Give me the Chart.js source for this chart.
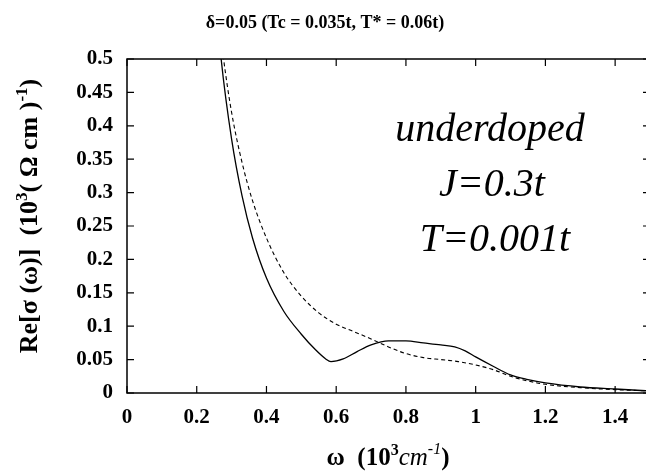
<!DOCTYPE html>
<html>
<head>
<meta charset="utf-8">
<script src="https://cdn.jsdelivr.net/npm/chart.js@4"></script>
<style>
  html, body { margin: 0; padding: 0; background: #fff; }
  #wrap { width: 646px; height: 473px; overflow: hidden; position: relative; }
</style>
</head>
<body>
<div id="wrap"><canvas id="myChart" width="652" height="473"></canvas></div>
<script>
// values
const solidOmega = [0.25, 0.27, 0.30, 0.33, 0.36, 0.40, 0.45, 0.50, 0.54, 0.57, 0.585, 0.62, 0.66, 0.70, 0.75, 0.80, 0.85, 0.90, 0.94, 0.97, 1.00, 1.05, 1.10, 1.15, 1.20, 1.30, 1.40, 1.50];
const solidSigma = [0.62, 0.50, 0.38, 0.295, 0.232, 0.172, 0.122, 0.088, 0.065, 0.051, 0.047, 0.051, 0.062, 0.072, 0.078, 0.078, 0.075, 0.072, 0.069, 0.063, 0.054, 0.040, 0.027, 0.020, 0.015, 0.009, 0.006, 0.003];
const dashedOmega = [0.25, 0.277, 0.30, 0.33, 0.36, 0.40, 0.45, 0.50, 0.55, 0.60, 0.65, 0.70, 0.75, 0.80, 0.85, 0.90, 0.95, 1.00, 1.05, 1.10, 1.15, 1.20, 1.30, 1.40, 1.50];
const dashedSigma = [0.62, 0.50, 0.42, 0.345, 0.288, 0.232, 0.18, 0.145, 0.12, 0.103, 0.092, 0.081, 0.069, 0.059, 0.053, 0.05, 0.047, 0.042, 0.035, 0.025, 0.018, 0.013, 0.008, 0.005, 0.003];
const xTicks = [0, 0.2, 0.4, 0.6, 0.8, 1, 1.2, 1.4];
const yTicks = [0, 0.05, 0.1, 0.15, 0.2, 0.25, 0.3, 0.35, 0.4, 0.45, 0.5];
const notes = ['underdoped', 'J=0.3t', 'T=0.001t'];
const title = 'δ=0.05 (Tc = 0.035t, T* = 0.06t)';

const serif = '"Liberation Serif", "Times New Roman", serif';

const toPoints = (xs, ys) => xs.map((x, i) => ({ x: x, y: ys[i] }));

// draws box, inward ticks, titles and the text block
const frame = {
  id: 'frame',
  afterDraw(chart) {
    const ctx = chart.ctx;
    const a = chart.chartArea;
    const xs = chart.scales.x, ys = chart.scales.y;
    ctx.save();
    ctx.strokeStyle = '#000';
    ctx.lineWidth = 1.5;
    ctx.strokeRect(a.left, a.top, a.right - a.left, a.bottom - a.top);
    ctx.lineWidth = 1.2;
    ctx.beginPath();
    for (let v of xTicks) {
      const p = xs.getPixelForValue(v);
      ctx.moveTo(p, a.bottom); ctx.lineTo(p, a.bottom - 7);
      ctx.moveTo(p, a.top); ctx.lineTo(p, a.top + 7);
    }
    for (let v of yTicks) {
      const p = ys.getPixelForValue(v);
      ctx.moveTo(a.left, p); ctx.lineTo(a.left + 7, p);
      ctx.moveTo(a.right, p); ctx.lineTo(a.right - 7, p);
    }
    ctx.stroke();

    ctx.fillStyle = '#000';
    ctx.textBaseline = 'alphabetic';

    // title
    ctx.font = 'bold 18px ' + serif;
    ctx.textAlign = 'center';
    ctx.fillText(title, 325, 28);

    // notes
    ctx.font = 'italic 40px ' + serif;
    ctx.fillText(notes[0], 490, 141);
    ctx.fillText(notes[1], 492, 196);
    ctx.fillText(notes[2], 495, 251);

    // run of text pieces with superscripts
    const run = (parts, x, y) => {
      ctx.textAlign = 'left';
      let w = 0;
      for (let p of parts) { ctx.font = p.f; w += ctx.measureText(p.t).width; }
      let cx = x - w / 2;
      for (let p of parts) {
        ctx.font = p.f;
        ctx.fillText(p.t, cx, y + (p.dy || 0));
        cx += ctx.measureText(p.t).width;
      }
    };

    // x title
    const b = 'bold 25px ' + serif, bs = 'bold 16px ' + serif;
    const it = 'italic 25px ' + serif, its = 'italic 16px ' + serif;
    run([
      { t: 'ω  (10', f: b }, { t: '3', f: bs, dy: -10 },
      { t: 'cm', f: it }, { t: '-1', f: its, dy: -11 }, { t: ')', f: b }
    ], 388, 465);

    // y title
    const yb = 'bold 26px ' + serif, ybs = 'bold 17px ' + serif;
    ctx.translate(37, 216);
    ctx.rotate(-Math.PI / 2);
    run([
      { t: 'Re[σ (ω)]  (10', f: yb }, { t: '3', f: ybs, dy: -10 },
      { t: '( Ω cm )', f: yb }, { t: '-1', f: ybs, dy: -10 }, { t: ')', f: yb }
    ], 0, 0);
    ctx.restore();
  }
};

new Chart(document.getElementById('myChart'), {
  type: 'line',
  data: {
    datasets: [{
      data: toPoints(solidOmega, solidSigma),
      borderColor: '#000',
      borderWidth: 1.3,
      pointRadius: 0,
      cubicInterpolationMode: 'monotone'
    }, {
      data: toPoints(dashedOmega, dashedSigma),
      borderColor: '#000',
      borderWidth: 1.1,
      borderDash: [4, 3],
      pointRadius: 0,
      cubicInterpolationMode: 'monotone'
    }]
  },
  plugins: [frame],
  options: {
    responsive: false,
    animation: false,
    devicePixelRatio: 1,
    layout: { padding: { top: 59, right: 2, left: 0, bottom: 0 } },
    plugins: { legend: { display: false }, title: { display: false }, tooltip: { enabled: false } },
    scales: {
      x: {
        type: 'linear', min: 0, max: 1.5,
        grid: { display: false, drawTicks: false },
        border: { display: false },
        afterFit: s => { s.height = 80; },
        ticks: {
          stepSize: 0.2, padding: 12, color: '#000', includeBounds: false,
          font: { family: serif, weight: 'bold', size: 21 },
          callback: v => (v > 1.45 ? '' : String(Math.round(v * 10) / 10))
        }
      },
      y: {
        min: 0, max: 0.5,
        grid: { display: false, drawTicks: false },
        border: { display: false },
        afterFit: s => { s.width = 127; },
        ticks: {
          stepSize: 0.05, padding: 14, color: '#000',
          font: { family: serif, weight: 'bold', size: 21 },
          callback: v => String(Math.round(v * 100) / 100)
        }
      }
    }
  }
});
</script>
</body>
</html>
